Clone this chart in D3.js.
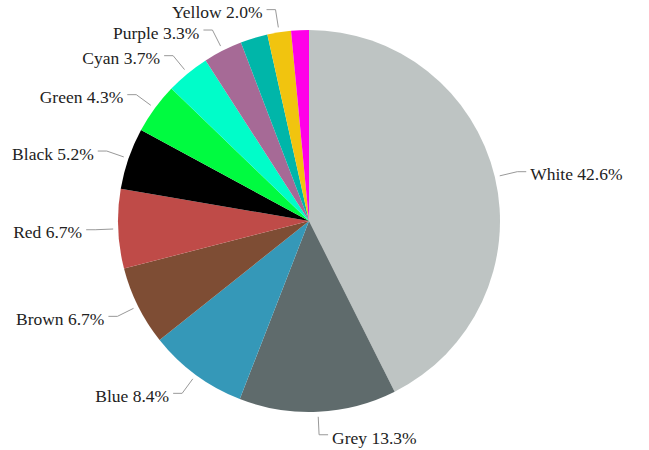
<!DOCTYPE html>
<html>
<head>
<meta charset="utf-8">
<script src="https://cdn.jsdelivr.net/npm/d3@7"></script>
<style>
  html, body { margin: 0; padding: 0; background: #fff; }
  svg { display: block; }
</style>
</head>
<body>
<div id="chart"></div>
<script>
const categories = ["White", "Grey", "Blue", "Brown", "Red", "Black", "Green", "Cyan", "Purple", "Teal", "Yellow", "Magenta"];
const values = [42.6, 13.3, 8.4, 6.7, 6.7, 5.2, 4.3, 3.7, 3.3, 2.3, 2.0, 1.5];
const showLabel = [true, true, true, true, true, true, true, true, true, false, true, false];
const colors = ["#bec4c3", "#5f6b6c", "#3598b8", "#7e4d34", "#bf4b48", "#000000", "#00fb40", "#00fdc9", "#a66a96", "#00b6a9", "#f1c40f", "#ff00e8"];

const W = 649, H = 450;
const cx = 309, cy = 221, R = 191;

const svg = d3.select("#chart").append("svg").attr("width", W).attr("height", H);
const g = svg.append("g").attr("transform", `translate(${cx},${cy})`);

const data = categories.map((c, i) => ({ name: c, value: values[i], color: colors[i], label: showLabel[i] }));
const pie = d3.pie().sort(null).value(d => d.value);
const arcs = pie(data);
const arc = d3.arc().innerRadius(0).outerRadius(R);

g.selectAll("path.slice").data(arcs).enter().append("path")
  .attr("class", "slice")
  .attr("d", arc)
  .attr("fill", d => d.data.color);

const r1 = R + 5, r2 = R + 23, hLen = 9, gap = 4;
const labeled = arcs.filter(d => d.data.label);

labeled.forEach(d => {
  const a = (d.startAngle + d.endAngle) / 2;
  const sx = Math.sin(a), sy = -Math.cos(a);
  const p1 = [r1 * sx, r1 * sy];
  const p2 = [r2 * sx, r2 * sy];
  const right = sx >= 0;
  const p3 = [p2[0] + (right ? hLen : -hLen), p2[1]];
  g.append("polyline")
    .attr("points", [p1, p2, p3].map(p => p.join(",")).join(" "))
    .attr("fill", "none")
    .attr("stroke", "#999")
    .attr("stroke-width", 1);
  g.append("text")
    .attr("x", p3[0] + (right ? gap : -gap))
    .attr("y", p3[1])
    .attr("dy", "0.5em")
    .attr("text-anchor", right ? "start" : "end")
    .style("font-family", "Liberation Serif")
    .style("font-size", "17.5px")
    .attr("fill", "#222")
    .text(`${d.data.name} ${d.data.value.toFixed(1)}%`);
});
</script>
</body>
</html>
